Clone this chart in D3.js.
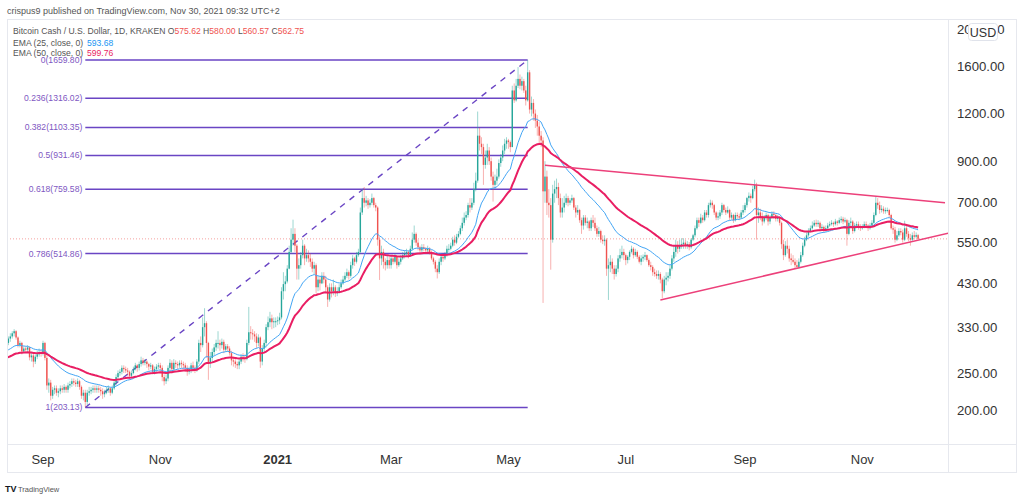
<!DOCTYPE html>
<html><head><meta charset="utf-8">
<script src="https://cdn.jsdelivr.net/npm/d3@7"></script>
<style>
html,body{margin:0;padding:0;background:#fff;}
svg{display:block;font-family:"Liberation Sans",Arial,sans-serif;}
</style></head><body>
<svg id="c" width="1024" height="500"></svg>
<script>
// ---------- DATA (daily candles, BCH/USD Kraken) ----------
const startDate = "2020-08-12";
const firstOpen = 292;
const closes = [
 // Aug 12-31 2020
 296,300,308,312,318,322,310,296,300,285,290,288,292,275,278,268,276,280,284,282,
 // Sep 2020
 300,274,232,236,218,226,228,222,224,228,226,230,226,232,234,238,236,234,238,230,218,222,210,222,224,226,228,226,228,226,
 // Oct 2020
 224,220,222,226,228,222,228,236,244,250,252,258,256,254,252,246,250,256,262,258,264,270,266,268,264,260,262,252,256,260,262,
 // Nov 2020
 258,244,238,242,258,266,256,266,264,262,266,264,262,258,252,256,262,258,256,268,300,296,330,338,300,266,274,284,292,300,
 // Dec 2020
 300,296,302,288,294,290,282,270,268,264,262,268,276,274,272,300,320,318,316,312,300,310,268,290,300,330,340,348,340,342,342,
 // Jan 2021
 344,350,410,428,435,470,520,560,580,540,470,480,510,540,500,510,500,490,470,480,420,440,430,450,440,420,390,420,410,420,405,
 // Feb 2021
 410,420,430,440,450,460,450,480,500,490,510,520,660,720,700,710,690,700,720,690,680,560,500,520,490,480,495,480,
 // Mar 2021
 500,490,505,480,490,500,510,515,520,510,530,560,580,550,535,525,535,530,525,530,520,500,490,470,460,490,505,500,510,530,530,
 // Apr 2021
 540,560,550,570,580,600,620,640,650,690,680,700,760,800,1050,1000,980,880,920,960,900,820,780,800,820,890,920,960,1000,1020,
 // May 2021
 1010,980,1380,1300,1420,1480,1420,1460,1380,1300,1540,1230,1280,1200,1150,1110,1050,1020,750,820,700,690,560,740,760,770,720,660,680,700,720,
 // Jun 2021
 700,710,720,680,660,670,630,610,640,620,625,600,630,620,600,580,590,560,555,560,470,480,490,470,455,470,500,510,520,510,
 // Jul 2021
 495,505,520,530,510,520,505,490,500,505,510,495,480,475,460,455,450,455,440,410,440,445,450,470,500,520,540,530,540,545,550,
 // Aug 2021
 540,545,535,560,575,600,630,620,640,630,660,650,690,700,690,660,640,645,660,690,670,660,670,640,650,630,650,645,640,660,670,
 // Sep 2021
 690,720,730,720,760,780,650,660,645,625,640,650,625,640,655,650,635,640,620,545,510,540,530,500,495,490,480,475,490,510,
 // Oct 2021
 540,560,575,590,600,610,620,615,620,600,605,595,600,610,615,620,615,625,620,630,635,625,630,580,620,625,590,610,615,605,600,
 // Nov 2021
 605,615,610,600,610,620,650,700,690,670,675,665,670,670,650,600,595,560,575,590,585,560,600,580,565,560,575,570,575.62,562.75
];
const highs = [
 300,304,312,318,322,326,324,312,304,302,294,294,296,294,284,282,280,286,290,288,
 304,302,278,242,240,230,232,232,228,232,232,234,232,236,238,242,242,240,242,240,232,226,226,226,230,230,232,232,232,232,
 230,228,226,230,232,230,232,240,248,254,256,262,262,260,258,254,254,260,266,264,268,276,274,272,270,266,266,264,260,264,266,
 266,262,248,248,262,272,270,272,270,268,270,270,268,266,262,260,266,268,262,272,306,312,350,370,342,302,284,290,298,306,
 322,306,308,306,298,298,294,286,276,272,268,272,280,282,280,306,373,332,326,322,318,316,312,296,306,336,352,362,356,350,350,
 352,360,420,460,450,480,540,600,632,600,545,500,520,560,545,530,525,515,500,490,485,450,450,460,460,450,425,430,430,440,425,
 420,428,440,450,460,470,465,490,510,505,520,530,680,760,770,730,720,715,740,725,700,685,570,540,530,500,510,505,
 510,510,515,505,500,510,520,525,530,525,540,585,610,585,560,540,545,545,535,540,535,525,505,495,480,500,515,512,520,540,545,
 550,570,575,580,590,610,640,660,665,700,720,720,790,840,1215,1100,1040,1000,960,1000,980,920,845,830,860,910,940,990,1030,1040,
 1030,1020,1420,1440,1480,1590,1520,1500,1480,1420,1659.79,1560,1330,1310,1230,1190,1140,1080,1040,900,850,760,720,780,800,810,790,740,720,730,740,
 730,720,735,725,690,690,675,640,650,650,640,630,640,650,640,610,605,595,575,575,565,500,510,500,480,480,510,530,540,530,
 515,510,525,540,535,530,525,510,510,512,520,512,500,490,480,470,465,465,460,445,450,460,460,480,510,540,560,555,560,565,565,
 560,555,552,565,580,610,640,640,655,650,670,670,700,713,710,695,665,660,670,700,695,680,685,675,660,655,660,660,655,670,690,
 700,725,745,740,775,805,790,680,675,660,650,660,655,650,665,665,655,650,645,625,560,555,560,540,515,510,500,495,500,520,
 550,570,585,600,610,625,630,632,630,625,615,610,610,620,625,630,625,635,630,640,645,643,640,635,630,640,630,620,625,625,615,
 615,625,625,615,620,630,660,726,720,705,690,685,680,680,675,655,610,605,590,600,600,595,628,615,590,580,585,590,585,580
];
const lows = [
 288,292,296,302,308,312,306,292,292,280,282,284,284,270,268,259,264,272,276,276,
 278,270,226,222,212,214,220,218,216,220,222,222,222,222,228,230,232,230,230,226,214,212,203.13,206,218,220,222,222,222,222,
 218,214,216,220,222,218,220,226,232,242,246,248,250,250,246,240,242,248,254,252,254,260,262,262,258,254,256,248,248,252,256,
 252,238,232,234,238,250,250,252,258,256,258,258,256,252,246,248,250,252,250,252,264,284,292,312,274,240,258,268,278,286,
 290,286,290,282,284,284,278,262,260,258,256,256,264,268,266,270,296,306,306,302,290,294,258,262,284,292,324,330,326,328,330,
 334,336,346,390,410,430,468,515,540,520,440,440,470,500,480,490,488,475,460,455,405,410,412,428,430,410,373,385,395,400,396,
 398,404,416,426,436,444,440,445,470,478,485,505,515,650,680,685,675,680,690,680,665,540,439,480,470,465,470,470,
 470,482,485,470,475,482,495,500,505,500,505,525,550,540,525,515,518,522,515,518,512,495,482,460,443,455,480,490,495,505,520,
 525,535,540,545,565,575,590,610,630,640,660,670,690,750,790,960,940,780,860,880,880,800,705,760,780,810,870,900,940,970,
 970,950,980,1280,1290,1400,1390,1380,1360,1260,1290,1200,1180,1150,1100,1050,1000,980,382,700,650,640,467,550,700,720,690,640,640,660,690,
 685,690,700,670,640,650,620,580,595,610,600,590,590,605,590,570,570,550,545,540,450,389,460,455,440,448,460,490,500,495,
 480,485,495,515,500,505,498,485,480,490,495,490,475,465,450,448,442,440,430,393,405,425,435,442,465,490,505,515,520,530,530,
 530,530,525,530,555,568,595,605,615,620,625,640,640,680,675,650,630,630,635,650,660,650,655,630,632,620,625,635,630,635,650,
 660,680,705,700,715,750,560,620,630,610,618,630,610,615,635,635,625,625,610,530,495,505,515,490,480,485,470,473,470,485,
 505,535,555,570,585,595,605,605,605,590,595,585,588,595,605,610,605,610,610,615,620,615,620,540,575,610,580,585,600,595,590,
 595,600,600,590,595,605,615,645,675,655,660,655,655,660,640,595,580,550,555,570,575,550,555,570,555,540,555,560,565,560.57
];
const ema25Seed = 284, ema50Seed = 272;     // EMA levels at the left edge
const priceTicks = [200,250,330,430,550,700,900,1200,1600,2000];
const monthTicks = ["2020-09-01","2020-11-01","2021-01-01","2021-03-01","2021-05-01","2021-07-01","2021-09-01","2021-11-01"];
const monthLabels = ["Sep","Nov","2021","Mar","May","Jul","Sep","Nov"];
const fibLevels = [0,0.236,0.382,0.5,0.618,0.786,1];
const fibHigh = 1659.7951, fibLow = 203.13;
const fibDates = ["2020-09-23","2021-05-11"];
const upperTrend = [["2021-05-20",878],["2021-12-14",700]];
const lowerTrend = [["2021-07-19",389],["2021-12-16",583]];
const lastPrice = 562.75;

// ---------- CHART ----------
const svg = d3.select("#c");
const parse = d3.utcParse("%Y-%m-%d");
const L=7, R=948, T=19, B=444, FR=1017, FB=473;
const x = d3.scaleUtc().domain([parse("2020-09-01"), parse("2021-09-01")]).range([43, 745]);
const y = d3.scaleLog().domain([200,1600]).range([410,66]);

const t0 = parse(startDate);
const bars = closes.map((c,i)=>{
  const o = i===0 ? firstOpen : closes[i-1];
  return {date:d3.utcDay.offset(t0,i), o, c, h:Math.max(highs[i],o,c), l:Math.min(lows[i],o,c)};
});
function ema(n, seed){
  const a = 2/(n+1); let e = seed;
  return bars.map(b=>{ e = a*b.c + (1-a)*e; return {date:b.date, v:e}; });
}
const e25 = ema(25, ema25Seed), e50 = ema(50, ema50Seed);

// frame
svg.append("rect").attr("x",L+0.5).attr("y",T+0.5).attr("width",FR-L-1).attr("height",FB-T-1)
  .attr("fill","none").attr("stroke","#e6e8ee");
svg.append("line").attr("x1",R+0.5).attr("x2",R+0.5).attr("y1",T).attr("y2",FB).attr("stroke","#e6e8ee");
svg.append("line").attr("x1",L).attr("x2",FR).attr("y1",B+0.5).attr("y2",B+0.5).attr("stroke","#e6e8ee");

svg.append("clipPath").attr("id","clip").append("rect").attr("x",L+1).attr("y",T+1).attr("width",R-L-1).attr("height",B-T-1);
const g = svg.append("g").attr("clip-path","url(#clip)");

// last price dotted line
g.append("line").attr("x1",L).attr("x2",R).attr("y1",y(lastPrice)).attr("y2",y(lastPrice))
  .attr("stroke","#ef5350").attr("stroke-opacity",0.55).attr("stroke-dasharray","1,2");

// fib retracement
const fx0 = x(parse(fibDates[0])), fx1 = x(parse(fibDates[1]));
g.append("line").attr("x1",fx0).attr("y1",y(fibLow)).attr("x2",fx1).attr("y2",y(fibHigh))
  .attr("stroke","#6a45c4").attr("stroke-width",1.4).attr("stroke-dasharray","6,6");
fibLevels.forEach(r=>{
  const v = fibHigh - r*(fibHigh-fibLow);
  g.append("line").attr("x1",fx0).attr("x2",fx1).attr("y1",y(v)).attr("y2",y(v))
    .attr("stroke","#6a45c4").attr("stroke-width",1.5);
  g.append("text").attr("x",fx0-3).attr("y",y(v)+3).attr("text-anchor","end")
    .attr("font-size",8.6).attr("fill","#7e57c2").text(r+"("+v.toFixed(2)+")");
});

// candles
const up="#26a69a", dn="#ef5350";
g.selectAll(".wick").data(bars).join("line")
  .attr("x1",d=>x(d.date)).attr("x2",d=>x(d.date))
  .attr("y1",d=>y(d.h)).attr("y2",d=>y(d.l))
  .attr("stroke",d=>d.c>=d.o?up:dn).attr("stroke-opacity",0.5).attr("stroke-width",0.9);
g.selectAll(".body").data(bars).join("rect")
  .attr("x",d=>x(d.date)-0.7).attr("width",1.4)
  .attr("y",d=>y(Math.max(d.o,d.c)))
  .attr("height",d=>Math.max(1,Math.abs(y(d.o)-y(d.c))))
  .attr("fill",d=>d.c>=d.o?up:dn);

// EMAs
const ln = d3.line().x(d=>x(d.date)).y(d=>y(d.v));
g.append("path").datum(e25).attr("d",ln).attr("fill","none").attr("stroke","#42a5f5").attr("stroke-width",1);
g.append("path").datum(e50).attr("d",ln).attr("fill","none").attr("stroke","#e91e63").attr("stroke-width",2);

// trend lines
[upperTrend, lowerTrend].forEach(tl=>{
  g.append("line")
    .attr("x1",x(parse(tl[0][0]))).attr("y1",y(tl[0][1]))
    .attr("x2",x(parse(tl[1][0]))).attr("y2",y(tl[1][1]))
    .attr("stroke","#ec407a").attr("stroke-width",1.5);
});

// price axis
priceTicks.forEach(v=>{
  svg.append("text").attr("x",957).attr("y",y(v)+4.5).attr("font-size",13.2)
    .attr("fill","#333").text(v.toFixed(2));
});
svg.append("rect").attr("x",968.5).attr("y",23.5).attr("width",29).attr("height",17).attr("rx",3)
  .attr("fill","#fff").attr("stroke","#e0e3eb");
svg.append("text").attr("x",983).attr("y",36.5).attr("text-anchor","middle").attr("font-size",12.5)
  .attr("fill","#333").text("USD");

// time axis
monthTicks.forEach((d,i)=>{
  svg.append("text").attr("x",x(parse(d))).attr("y",463.5).attr("text-anchor","middle")
    .attr("font-size",13).attr("font-weight",monthLabels[i]==="2021"?"bold":"normal")
    .attr("fill","#333").text(monthLabels[i]);
});

// header + legend
svg.append("text").attr("x",7).attr("y",14).attr("font-size",9).attr("fill","#555")
  .text("crispus9 published on TradingView.com, Nov 30, 2021 09:32 UTC+2");
const lg = svg.append("text").attr("x",13).attr("y",33.5).attr("font-size",8.6).attr("fill","#555");
lg.append("tspan").text("Bitcoin Cash / U.S. Dollar, 1D, KRAKEN  ");
[["O","575.62"],["H","580.00"],["L","560.57"],["C","562.75"]].forEach(([k,v],i)=>{
  lg.append("tspan").attr("fill","#555").text((i?"  ":"")+k);
  lg.append("tspan").attr("fill","#ef5350").text(v);
});
svg.append("text").attr("x",13).attr("y",45.5).attr("font-size",8.6).attr("fill","#555").text("EMA (25, close, 0)");
svg.append("text").attr("x",87).attr("y",45.5).attr("font-size",8.6).attr("fill","#2196f3").text("593.68");
svg.append("text").attr("x",13).attr("y",56).attr("font-size",8.6).attr("fill","#555").text("EMA (50, close, 0)");
svg.append("text").attr("x",87).attr("y",56).attr("font-size",8.6).attr("fill","#e91e63").text("599.76");

// TradingView footer
svg.append("text").attr("x",5).attr("y",492).attr("font-size",9).attr("font-weight","bold").attr("fill","#131722").text("TV");
svg.append("text").attr("x",18).attr("y",492).attr("font-size",7.5).attr("fill","#555").text("TradingView");
</script>
</body></html>
